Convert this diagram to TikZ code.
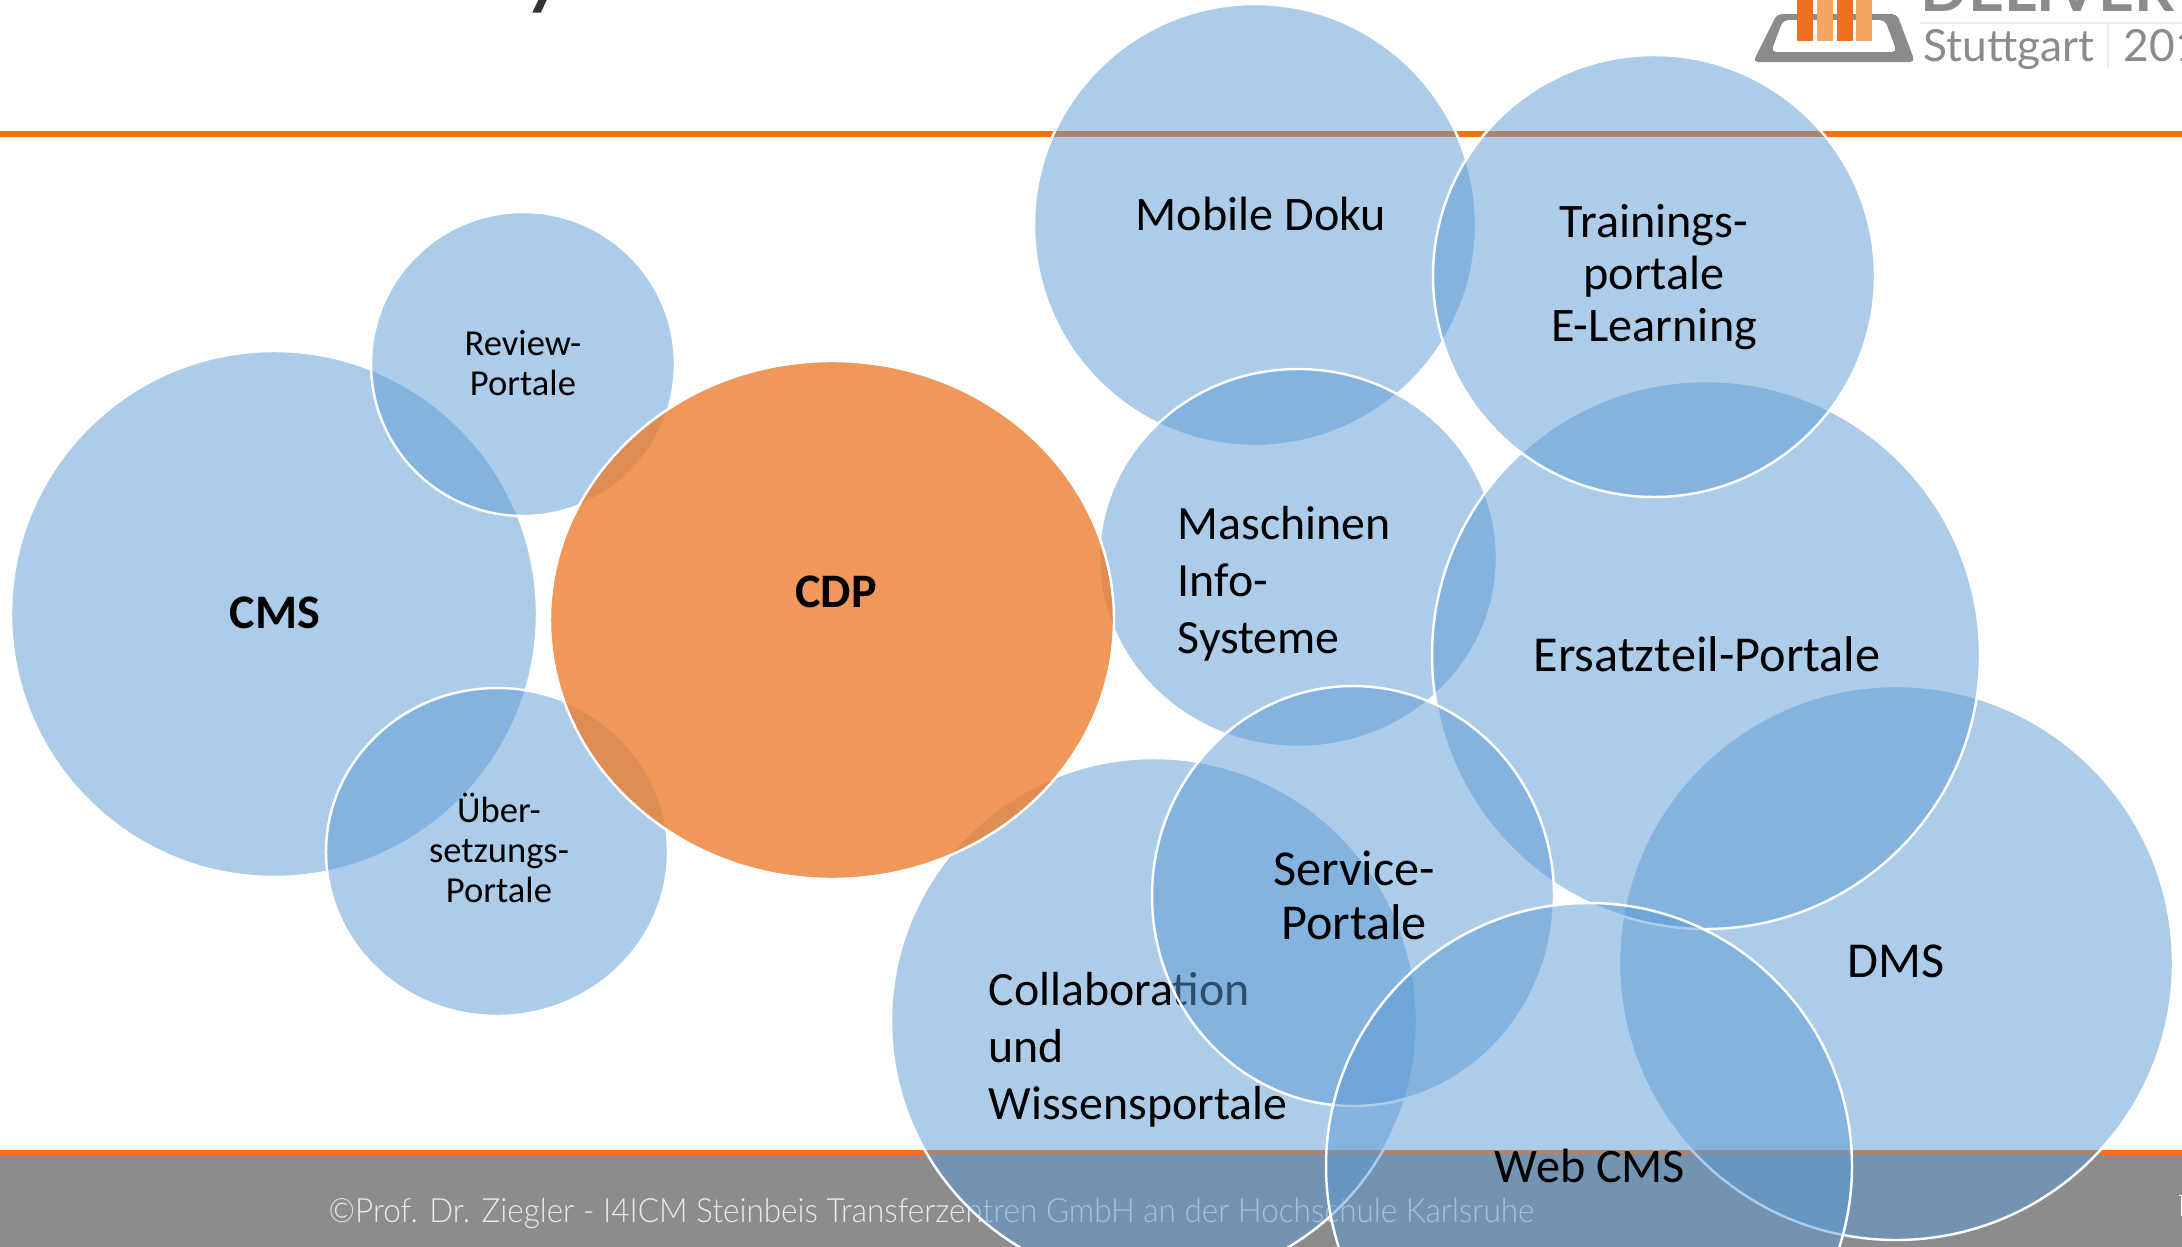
\documentclass[tikz,border=0pt]{standalone}
\usepackage{fontspec}
\usepackage{xcolor}
\setmainfont{Carlito}
\newfontfamily\logofont{Lato}
\newfontfamily\footfont[UprightFont={* Light},FakeStretch=0.943]{Lato}
\definecolor{bubbleblue}{HTML}{5B9BD5}
\definecolor{bubbleorange}{HTML}{ED7D31}
\definecolor{barorange}{HTML}{F07023}
\definecolor{barlight}{HTML}{F5A663}
\definecolor{ruleorange}{HTML}{FF6F0F}
\definecolor{footgray}{HTML}{8B8C8E}
\definecolor{logogray}{HTML}{8A8B8C}
\tikzset{
	bubble/.style={fill=bubbleblue,fill opacity=0.5,draw=white,line width=0.7pt},
	corebubble/.style={fill=bubbleorange,fill opacity=0.8,draw=white,line width=0.7pt},
	biglabel/.style={inner sep=0,align=center,font=\fontsize{13.7}{14.8}\selectfont},
	largelabel/.style={inner sep=0,align=center,font=\fontsize{14.3}{15.4}\selectfont},
	leftlabel/.style={inner sep=0,align=left,font=\fontsize{13.6}{16.2}\selectfont},
	smalllabel/.style={inner sep=0,align=center,font=\fontsize{10.4}{11.4}\selectfont},
	boldlabel/.style={inner sep=0,font=\fontsize{13.7}{16}\selectfont\bfseries},
}

\begin{document}
\begin{tikzpicture}
	\useasboundingbox[clip] (0,-12.47) rectangle (21.82,0);
	\fill[white] (0,-12.47) rectangle (21.82,0);

	\fill[black!80] (5.323,-0.127) -- (5.407,-0.127) -- (5.467,0) -- (5.383,0) -- cycle;
	\fill[ruleorange] (0,-1.37) rectangle (21.82,-1.31);
	\fill[ruleorange] (0,-11.55) rectangle (21.82,-11.50);
	\fill[footgray] (0,-12.47) rectangle (21.82,-11.55);
	\node[inner sep=0,anchor=base west,text=white!92!black,font=\footfont\fontsize{9.5}{11}\selectfont] (footer) at (3.28,-12.22) {©Prof. Dr. Ziegler - I4ICM Steinbeis Transferzentren GmbH an der Hochschule Karlsruhe};
	\fill[white] (21.79,-11.95) rectangle (21.82,-11.96);
	\fill[white] (21.81,-11.96) rectangle (21.82,-12.16);

	\fill[logogray,rounded corners=0.05cm,even odd rule] (17.77,-0.14) -- (18.97,-0.14) -- (19.15,-0.62) -- (17.53,-0.62) -- cycle
		(17.83,-0.20) -- (18.85,-0.20) -- (18.97,-0.52) -- (17.71,-0.52) -- cycle;
	\fill[barorange] (17.97,-0.41) rectangle (18.13,0);
	\fill[barlight] (18.17,-0.41) rectangle (18.33,0);
	\fill[barorange] (18.37,-0.41) rectangle (18.53,0);
	\fill[barlight] (18.56,-0.41) rectangle (18.72,0);
	\draw[black!8,line width=0.3pt] (19.2,-0.23) -- (21.82,-0.23);
	\draw[black!8,line width=0.3pt] (21.08,-0.23) -- (21.08,-0.68);
	\node[inner sep=0,anchor=base west,text=logogray,font=\logofont\fontsize{17.8}{20}\selectfont\bfseries] (deliver) at (19.2,-0.12) {DELIVER};
	\node[inner sep=0,anchor=base west,text=logogray,font=\logofont\fontsize{12.6}{14}\selectfont] (stuttgart) at (19.23,-0.61) {Stuttgart};
	\node[inner sep=0,anchor=base west,text=logogray,font=\logofont\fontsize{12.6}{14}\selectfont] (year) at (21.23,-0.61) {201};

	\draw[bubble] (2.74,-6.14) circle (2.63);
	\node[boldlabel] (cms) at (2.75,-6.13) {CMS};
	\draw[bubble] (5.23,-3.64) circle (1.52);
	\node[smalllabel] (review) at (5.23,-3.63) {Review-\\Portale};
	\draw[bubble] (4.97,-8.52) ellipse (1.71 and 1.64);
	\node[smalllabel] (uebersetzung) at (4.99,-8.48) {Über-\\setzungs-\\Portale};

	\draw[bubble] (12.55,-2.25) circle (2.21);
	\node[biglabel] (mobile) at (12.61,-2.14) {Mobile Doku};
	\draw[bubble] (12.98,-5.58) ellipse (1.99 and 1.89);
	\node[leftlabel,anchor=west] (maschinen) at (11.77,-5.84) {Maschinen\\Info-\\Systeme};
	\draw[bubble] (11.54,-10.21) circle (2.63);
	\node[leftlabel,anchor=west] (collab) at (9.88,-10.50) {Collaboration\\und\\Wissensportale};
	\draw[bubble] (18.96,-9.63) circle (2.77);
	\node[largelabel] (dms) at (18.96,-9.61) {DMS};
	\draw[bubble] (17.06,-6.55) circle (2.74);
	\node[largelabel] (ersatzteil) at (17.07,-6.54) {Ersatzteil-Portale};
	\draw[bubble] (16.54,-2.76) circle (2.21);
	\node[biglabel] (training) at (16.54,-2.77) {Trainings-\\portale\\E-Learning};
	\draw[bubble] (13.53,-8.96) ellipse (2.01 and 2.10);
	\node[largelabel] (service) at (13.54,-8.95) {Service-\\Portale};
	\draw[bubble] (15.89,-11.66) circle (2.63);
	\node[biglabel] (webcms) at (15.90,-11.66) {Web CMS};

	\draw[corebubble] (8.32,-6.20) ellipse (2.82 and 2.59);
	\node[boldlabel] (cdp) at (8.36,-5.92) {CDP};
\end{tikzpicture}
\end{document}
